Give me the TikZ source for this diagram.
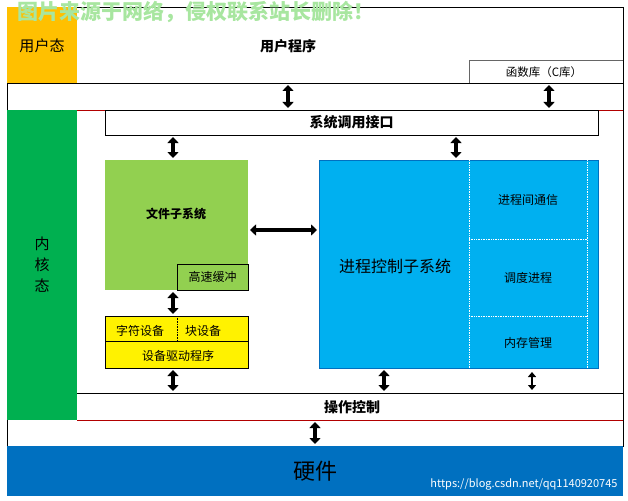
\documentclass[tikz,border=0pt]{standalone}
\usepackage{fontspec}
\setmainfont{Noto Sans CJK SC}
\usetikzlibrary{arrows.meta}
\definecolor{UserOrange}{HTML}{FFC000}
\definecolor{KernGreen}{HTML}{00B050}
\definecolor{FileGreen}{HTML}{92D050}
\definecolor{ProcBlue}{HTML}{00B0F0}
\definecolor{HwBlue}{HTML}{0070C0}
\definecolor{WaterGreen}{HTML}{A8E6A0}
\begin{document}
\begin{tikzpicture}[x=1pt,y=-1pt,
  box/.style={draw=black,line width=.8pt},
  lbl/.style={font=\fontsize{12}{12}\selectfont},
  dbl/.style={{Triangle[length=6pt,width=11pt]}-{Triangle[length=6pt,width=11pt]},line width=4pt}]
\useasboundingbox (0,0) rectangle (628,500);
% frame
\draw[box] (7,7) rectangle (623,446);
\fill[UserOrange] (7,7) rectangle (77,83);
\node[font=\fontsize{15}{15}\selectfont] (us) at (42,46) {用户态};
\fill[KernGreen] (7,110) rectangle (77,420);
\node[align=center,font=\fontsize{15}{21}\selectfont] (ks) at (42,265) {内\\核\\态};
\draw[box] (7,83) -- (623,83);
\draw[red!70!black,line width=.8pt] (77,110) -- (623,110);
\draw[red!70!black,line width=.8pt] (77,420) -- (623,420);
\draw[box] (77,393) -- (623,393);
\node[font=\bfseries\fontsize{14}{14}\selectfont] (user) at (288,46) {用户程序};
\draw[box,black!60] (469,83) |- (623,60);
\node[font=\fontsize{11.5}{11.5}\selectfont] (clib) at (544,72) {函数库（C库）};
% system call interface
\node[box,minimum width=493pt,minimum height=25pt,font=\bfseries\fontsize{14}{14}\selectfont] (sci) at (351.5,122.5) {系统调用接口};
% file subsystem
\fill[FileGreen] (105,160) rectangle (248,290);
\node[font=\bfseries\fontsize{12}{12}\selectfont] (fs) at (176,214) {文件子系统};
\node[box,fill=FileGreen,minimum width=71pt,minimum height=26pt,lbl] (cache) at (212.5,277) {高速缓冲};
\fill[yellow,draw=black,line width=.8pt] (105,316) rectangle (248,368);
\draw[box] (105,341) -- (248,341);
\draw[black,line width=.6pt,densely dotted] (177,316) -- (177,341);
\node[lbl] (chr) at (140,331) {字符设备};
\node[lbl] (blk) at (203,331) {块设备};
\node[lbl] (drv) at (178,356) {设备驱动程序};
% process control
\fill[ProcBlue,draw=HwBlue,line width=.6pt] (319,160) rectangle (598,368);
\draw[white,densely dotted,line width=.7pt] (469,160) -- (469,368) (587,160) -- (587,368)
  (469,239) -- (587,239) (469,316) -- (587,316);
\node[font=\fontsize{16}{16}\selectfont] (pc) at (395,266) {进程控制子系统};
\node[lbl] (ipc) at (528,200) {进程间通信};
\node[lbl] (sched) at (528,278) {调度进程};
\node[lbl] (mem) at (528,343) {内存管理};
% operation control
\node[font=\bfseries\fontsize{14}{14}\selectfont] (op) at (352,407) {操作控制};
% hardware
\fill[HwBlue] (7,446) rectangle (623,496);
\node[font=\fontsize{22}{22}\selectfont] (hw) at (315,471) {硬件};
\node[white,font=\fontsize{11}{11}\selectfont,anchor=east] (url) at (621,484) {https://blog.csdn.net/qq1140920745};
\node[WaterGreen,anchor=west,font=\bfseries\fontsize{21}{21}\selectfont] (wm) at (14,12) {图片来源于网络，侵权联系站长删除！};
% arrows
\draw[dbl] (user.south |- 0,85) -- (user.south |- 0,108);
\draw[dbl] (549,85) -- (549,108);
\draw[dbl] (173,137) -- (173,158);
\draw[dbl] (456,137) -- (456,158);
\draw[dbl] (250,230) -- (317,230);
\draw[dbl] (173,292) -- (173,314);
\draw[dbl] (173,370) -- (173,391);
\draw[dbl] (384,370) -- (384,391);
\draw[{Triangle[length=5pt,width=8pt]}-{Triangle[length=5pt,width=8pt]},line width=2.5pt] (532,372) -- (532,390);
\draw[dbl] (315,422) -- (315,444);
\end{tikzpicture}
\end{document}
